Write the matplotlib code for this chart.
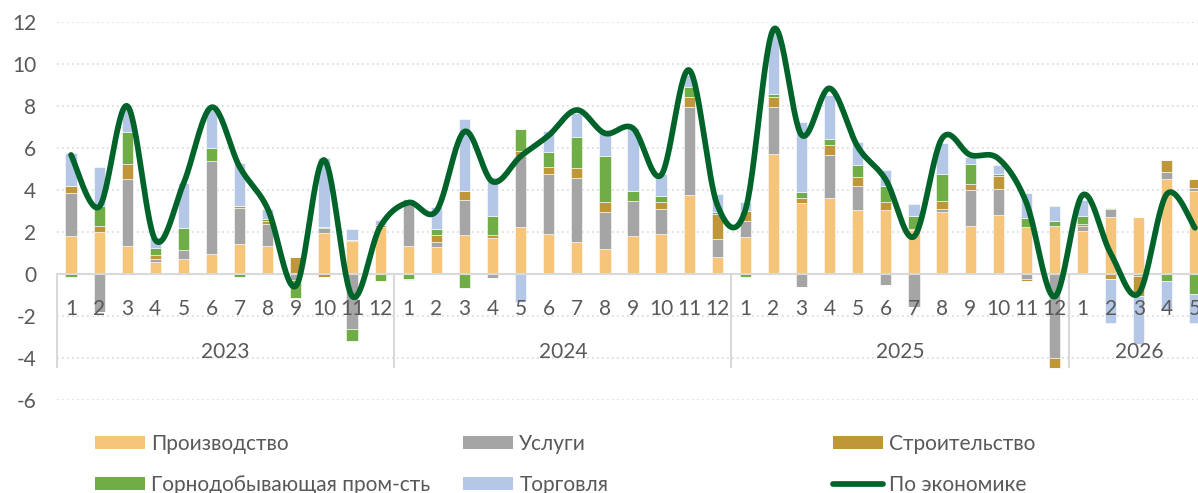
import numpy as np
import matplotlib
matplotlib.use('Agg')
import matplotlib.pyplot as plt
from matplotlib.patches import Patch
from matplotlib.lines import Line2D

# ---------------- data ----------------
years = ['2023', '2024', '2025', '2026']
months_per_year = [12, 12, 12, 5]
month_labels = [str(m) for n in months_per_year for m in range(1, n + 1)]

series_names = ['Производство', 'Услуги', 'Строительство',
                'Горнодобывающая пром-сть', 'Торговля']
line_name = 'По экономике'

prod = [1.81, 1.98, 1.33, 0.57, 0.71, 0.95, 1.44, 1.33, 0.00, 1.94, 1.56, 2.25,
        1.35, 1.29, 1.86, 1.73, 2.22, 1.90, 1.52, 1.21, 1.83, 1.90, 3.76, 0.81,
        1.76, 5.73, 3.37, 3.63, 3.05, 3.05, 2.10, 2.95, 2.30, 2.79, 2.25, 2.30,
        2.06, 2.71, 2.70, 4.51, 3.97]
services = [2.03, -1.80, 3.19, 0.14, 0.41, 4.41, 1.68, 1.04, -0.30, 0.27, -2.63, 0.00,
            2.24, 0.25, 1.65, -0.20, 3.40, 2.88, 3.04, 1.74, 1.65, 1.21, 4.18, 0.86,
            0.76, 2.21, -0.60, 2.05, 1.16, -0.54, -1.59, 0.15, 1.68, 1.27, -0.25, -3.98,
            0.24, 0.37, -0.10, 0.36, 0.11]
construction = [0.35, 0.32, 0.70, 0.18, 0.00, 0.00, 0.10, 0.15, 0.79, -0.12, 0.05, 0.10,
                0.00, 0.30, 0.44, 0.14, 0.25, 0.32, 0.50, 0.48, 0.00, 0.32, 0.50, 1.17,
                0.48, 0.50, 0.26, 0.46, 0.41, 0.36, 0.06, 0.39, 0.31, 0.59, -0.08, -0.48,
                0.08, -0.22, -0.95, 0.56, 0.43]
mining = [-0.12, 0.95, 1.56, 0.36, 1.06, 0.65, -0.15, 0.10, -0.85, 0.03, -0.57, -0.35,
          -0.22, 0.30, -0.65, 0.89, 1.02, 0.73, 1.48, 2.20, 0.49, 0.28, 0.48, 0.10,
          -0.12, 0.13, 0.29, 0.29, 0.57, 0.80, 0.59, 1.26, 0.96, 0.10, 0.42, 0.22,
          0.38, 0.06, 0.00, -0.33, -0.95]
trade = [1.56, 1.85, 1.10, 0.50, 2.13, 1.80, 2.05, 0.49, 0.00, 3.27, 0.52, 0.22,
         -0.05, 1.07, 3.43, 1.87, -1.32, 0.97, 1.11, 1.23, 2.97, 1.07, 0.56, 0.85,
         0.44, 3.00, 3.33, 2.10, 1.08, 0.74, 0.60, 1.47, 0.34, 0.44, 1.17, 0.70,
         0.76, -2.13, -2.30, -1.38, -1.40]
economy = [5.67, 3.20, 8.00, 1.62, 4.30, 7.94, 5.10, 3.10, -0.57, 5.43, -1.05, 2.25,
           3.40, 3.00, 6.78, 4.40, 5.60, 6.60, 7.81, 6.70, 6.94, 4.71, 9.71, 3.29,
           3.05, 11.65, 6.62, 8.84, 6.06, 4.48, 1.78, 6.46, 5.67, 5.50, 3.40, -1.08,
           3.76, 0.98, -0.92, 3.81, 2.20]

y_ticks = [-6, -4, -2, 0, 2, 4, 6, 8, 10, 12]

# ---------------- style ----------------
colors = ['#F7C57A', '#A5A5A5', '#BF9739', '#70AD47', '#B4C7E7']
line_color = '#00642A'
text_color = '#595959'
grid_color = '#D9D9D9'
FS = 15

plt.rcParams['font.family'] = ['Lato', 'DejaVu Sans']

W, H = 1198, 493
fig = plt.figure(figsize=(W / 100, H / 100), dpi=100)
ax = fig.add_axes([57 / W, 93 / H, 1152 / W, 378 / H])

# gridlines (dotted), below everything
for v in y_ticks:
    if v != 0:
        ax.axhline(v, color=grid_color, linestyle=(0, (1, 2)), lw=1.2, zorder=0)

n = len(month_labels)
x = np.arange(n)
pos_base = np.zeros(n)
neg_base = np.zeros(n)
for vals, col in zip([prod, services, construction, mining, trade], colors):
    v = np.array(vals, dtype=float)
    p = np.where(v > 0, v, 0.0)
    q = np.where(v < 0, v, 0.0)
    ax.bar(x, p, bottom=pos_base, width=0.4, color=col, edgecolor='white',
           linewidth=0.4, zorder=2)
    ax.bar(x, q, bottom=neg_base, width=0.4, color=col, edgecolor='white',
           linewidth=0.4, zorder=2)
    pos_base += p
    neg_base += q


def smooth(xs, ys, k=30):
    pts = np.column_stack([xs, ys]).astype(float)
    P = np.vstack([pts[0], pts, pts[-1]])
    t = np.linspace(0, 1, k)[:, None]
    out = []
    for i in range(1, len(P) - 2):
        p0, p1, p2, p3 = P[i - 1], P[i], P[i + 1], P[i + 2]
        b1 = p1 + (p2 - p0) / 6
        b2 = p2 - (p3 - p1) / 6
        seg = ((1 - t) ** 3) * p1 + 3 * (1 - t) ** 2 * t * b1 + 3 * (1 - t) * t ** 2 * b2 + t ** 3 * p2
        out.append(seg if i == 1 else seg[1:])
    return np.vstack(out)


curve = smooth(x, economy)
ax.plot(curve[:, 0], curve[:, 1], color=line_color, lw=4.1, zorder=6,
        solid_capstyle='round', solid_joinstyle='round', clip_on=False)

ax.set_xlim(-0.5, n - 0.5)
ax.set_ylim(-6, 12)
ax.set_yticks(y_ticks)
ax.set_yticklabels([str(v) for v in y_ticks])
ax.tick_params(axis='y', length=0, pad=15, labelsize=FS, labelcolor=text_color)

for s in ['top', 'right', 'left']:
    ax.spines[s].set_visible(False)
ax.spines['bottom'].set_position(('data', 0))
ax.spines['bottom'].set_color(grid_color)
ax.spines['bottom'].set_linewidth(1.5)

ax.set_xticks(x)
ax.set_xticklabels(month_labels)
ax.tick_params(axis='x', length=0, pad=18, labelsize=FS, labelcolor=text_color)
ax.xaxis.set_zorder(5)
ax.yaxis.set_zorder(5)

# group separators and year labels
start = 0
for yr, cnt in zip(years, months_per_year):
    ax.plot([start - 0.5, start - 0.5], [0, -4.43], color=grid_color, lw=1.5,
            clip_on=False, zorder=3)
    ax.text(start + (cnt - 1) / 2, -3.71, yr, ha='center', va='center',
            fontsize=FS, color=text_color, zorder=5)
    start += cnt

# legend
def handle(c):
    return Patch(facecolor=c, edgecolor='none')

line_handle = Line2D([0], [0], color=line_color, lw=4.1, solid_capstyle='round')
groups = [
    ([handle(colors[0]), handle(colors[3])], [series_names[0], series_names[3]], 95),
    ([handle(colors[1]), handle(colors[4])], [series_names[1], series_names[4]], 463),
    ([handle(colors[2]), line_handle], [series_names[2], line_name], 833),
]
for hs, ls, px in groups:
    fig.legend(hs, ls, loc='upper left', bbox_to_anchor=(px / W, 1 - 434 / H),
               frameon=False, borderpad=0, borderaxespad=0, handlelength=2.4,
               handleheight=0.62, handletextpad=0.3, labelspacing=1.0,
               fontsize=FS, labelcolor=text_color)

fig.savefig('out.png', dpi=100)
